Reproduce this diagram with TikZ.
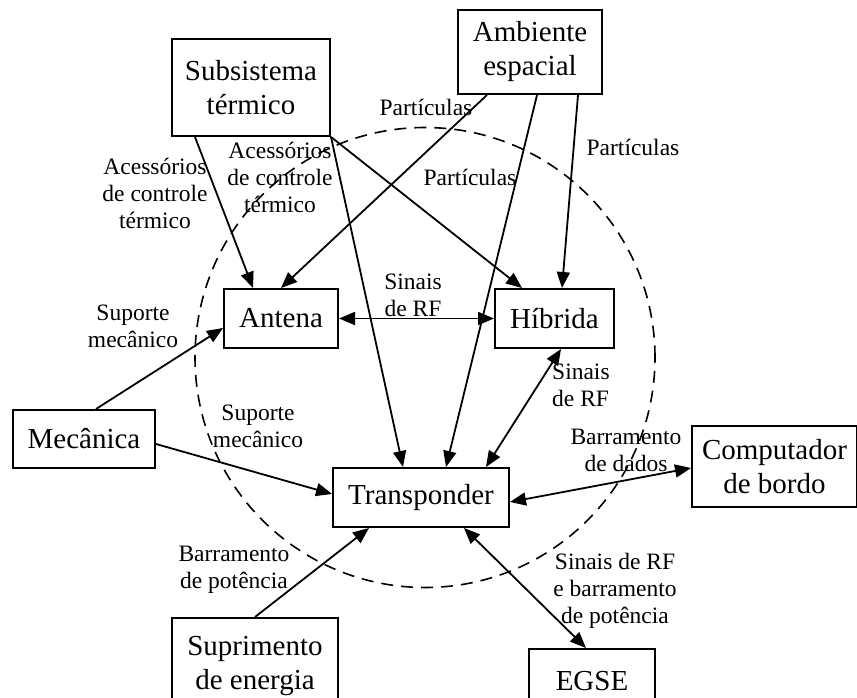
\documentclass[tikz,border=0pt]{standalone}
\usepackage{fontspec}
\setmainfont{Liberation Serif}
\usetikzlibrary{arrows.meta,calc}
\tikzset{
  box/.style={draw,line width=2pt,inner sep=0pt,align=center,font=\fontsize{29}{34}\selectfont},
  lbl/.style={inner sep=0pt,align=center,font=\fontsize{23.5}{27}\selectfont},
  conn/.style={line width=1.8pt,-{Triangle[length=16pt,width=13pt]}},
  bconn/.style={line width=1.8pt,{Triangle[length=16pt,width=13pt]}-{Triangle[length=16pt,width=13pt]}},
  bound/.style={line width=1.6pt,dash pattern=on 12pt off 8pt}
}
\begin{document}
\begin{tikzpicture}[x=1pt,y=-1pt]
\path[use as bounding box,clip] (0,0) rectangle (857,698);
\fill[white] (0,0) rectangle (857,698);
% boundary
\node[bound,draw,circle,minimum size=460pt,inner sep=0pt] (ring) at (425,357.5) {};
% boxes
\node[box,minimum width=158pt,minimum height=97pt] (sub) at (251,87.5) {Subsistema\\térmico};
\node[box,minimum width=144pt,minimum height=84pt] (amb) at (530,52) {Ambiente\\espacial};
\node[box,minimum width=114pt,minimum height=59pt] (ant) at (281,318.5) {Antena};
\node[box,minimum width=119pt,minimum height=59pt] (hib) at (554.5,318.5) {Híbrida};
\node[box,minimum width=142pt,minimum height=58pt] (mec) at (84,439) {Mecânica};
\node[box,minimum width=176pt,minimum height=59pt] (tra) at (421,497.5) {Transponder};
\node[box,minimum width=165pt,minimum height=81pt] (comp) at (774.5,466.5) {Computador\\de bordo};
\node[box,minimum width=166pt,minimum height=97pt] (sup) at (255,666.5) {Suprimento\\de energia};
\node[box,minimum width=126pt,minimum height=64pt] (egse) at (592,681) {EGSE};
% connectors
\draw[conn] ([xshift=24pt]sub.south west) -- ([xshift=30pt]ant.north west);
\draw[conn] (sub.south east) -- ([xshift=71pt]tra.north west);
\draw[conn] (sub.south east) -- ([xshift=28pt]hib.north west);
\draw[conn] ([xshift=30pt]amb.south west) -- ([xshift=58pt]ant.north west);
\draw[conn] ([xshift=80pt]amb.south west) -- ([xshift=114pt]tra.north west);
\draw[conn] ([xshift=121pt]amb.south west) -- ([xshift=68pt]hib.north west);
\draw[bconn] (ant.east) -- (hib.west);
\draw[conn] ([xshift=84pt]mec.north west) -- ([yshift=-9.5pt]ant.west);
\draw[conn] ([yshift=-5pt]mec.east) -- ([yshift=3.5pt]tra.west);
\draw[bconn] ([xshift=67pt]hib.south west) -- ([xshift=154pt]tra.north west);
\draw[bconn] ([yshift=-4.5pt]tra.east) -- ([yshift=-1.5pt]comp.west);
\draw[conn] (sup.north) -- ([xshift=37pt]tra.south west);
\draw[bconn] ([xshift=132pt]tra.south west) -- ([xshift=58pt]egse.north west);
% labels
\node[lbl] (l1) at (155,193) {Acessórios\\de controle\\térmico};
\node[lbl] (l2) at (280,177) {Acessórios\\de controle\\térmico};
\node[lbl] (l3) at (426,107) {Partículas};
\node[lbl] (l4) at (470,177) {Partículas};
\node[lbl] (l5) at (633,147) {Partículas};
\node[lbl] (l6) at (413,295) {Sinais\\de RF};
\node[lbl] (l7) at (133,326) {Suporte\\mecânico};
\node[lbl] (l8) at (258,426) {Suporte\\mecânico};
\node[lbl,align=left,anchor=west] (l9) at (552,385) {Sinais\\de RF};
\node[lbl] (l10) at (626,450) {Barramento\\de dados};
\node[lbl] (l11) at (234,570) {Barramento\\de potência};
\node[lbl] (l12) at (615,591) {Sinais de RF\\e barramento\\de potência};
\end{tikzpicture}
\end{document}
